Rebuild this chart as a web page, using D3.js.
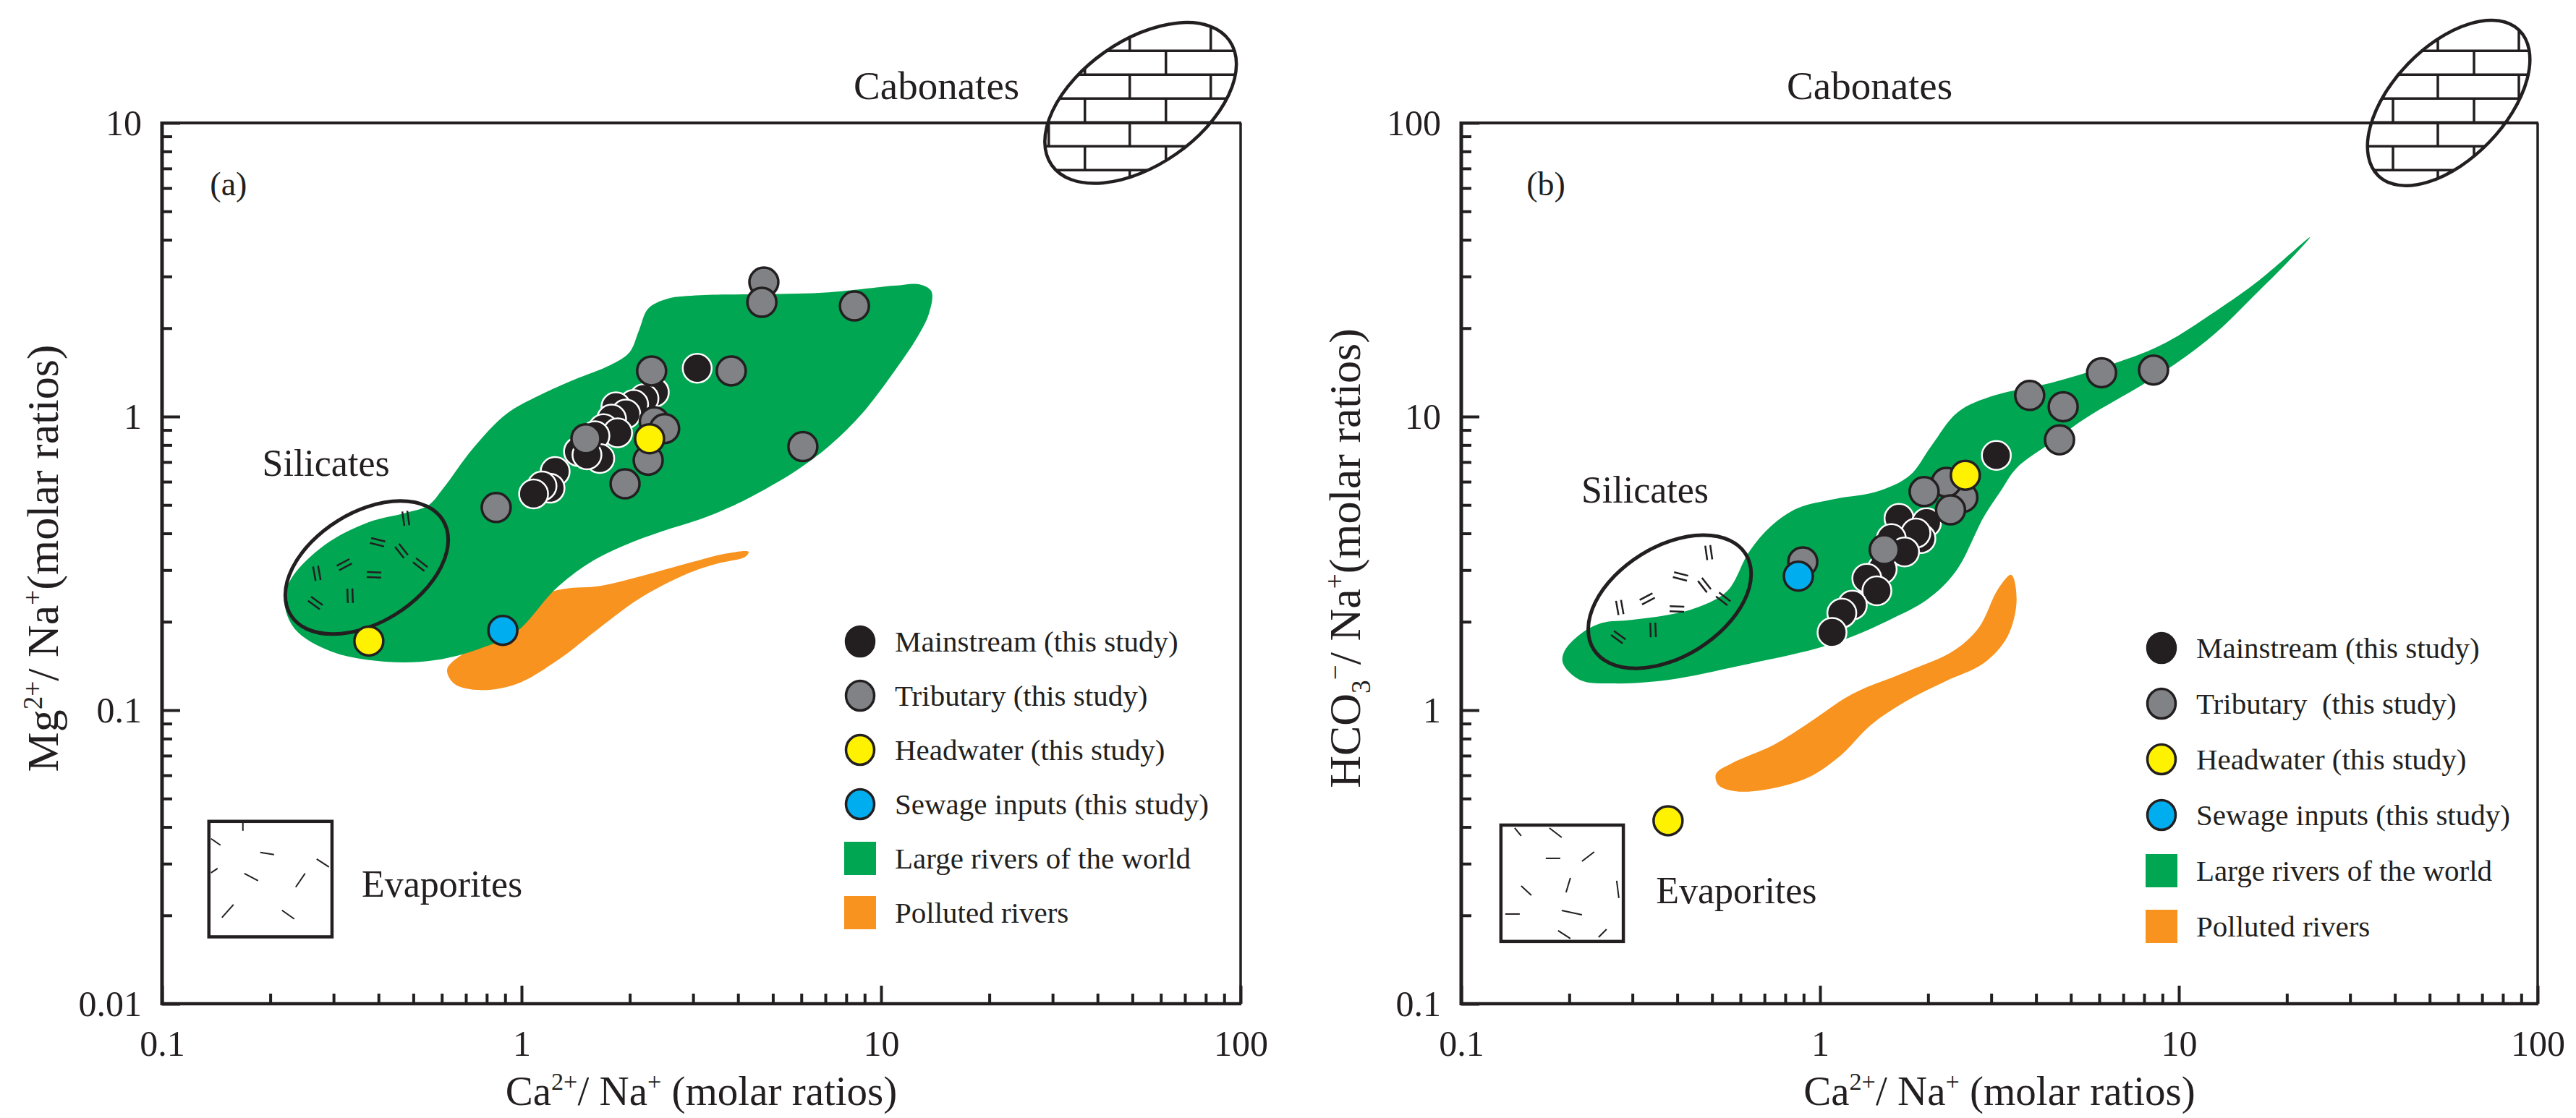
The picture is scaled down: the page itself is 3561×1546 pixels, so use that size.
<!DOCTYPE html>
<html>
<head>
<meta charset="utf-8">
<script src="https://cdn.jsdelivr.net/npm/d3@7"></script>
<style>
body { margin: 0; background: #fff; }
svg text, svg tspan { font-family: "Liberation Serif", "Times New Roman", Times, serif !important; fill: #231f20; white-space: pre; }
</style>
</head>
<body>
<svg id="chart"></svg>
<script>
var W = 3561, H = 1546;
var serif = "'Liberation Serif', 'Times New Roman', Times, serif";

// ---- data ----
var xTicks = [0.1, 1, 10, 100];
var yTicksA = [0.01, 0.1, 1, 10];
var yTicksB = [0.1, 1, 10, 100];

// panel (a): Ca/Na vs Mg/Na
var mainstreamA = [[3.08,1.46],[2.34,1.21],[2.19,1.15],[2.05,1.10],[1.83,1.08],[1.95,1.02],[1.78,0.98],[1.69,0.91],[1.85,0.88],[1.60,0.86],[1.44,0.76],[1.65,0.72],[1.52,0.74],[1.24,0.65],[1.20,0.57],[1.14,0.58],[1.08,0.545]];
var tributaryA = [[4.72,2.87],[4.66,2.45],[8.43,2.38],[2.30,1.43],[3.83,1.43],[2.34,0.96],[2.50,0.91],[1.51,0.84],[2.25,0.71],[6.06,0.79],[1.94,0.59],[0.85,0.49]];
var headwaterA = [[2.27,0.84],[0.376,0.172]];
var sewageA = [[0.887,0.187]];
var largeRiversA = [[0.968,0.185],[1.24,0.258],[1.53,0.315],[1.91,0.362],[2.45,0.406],[3.14,0.447],[3.85,0.495],[4.74,0.564],[5.84,0.657],[7.16,0.792],[8.83,1.02],[10.9,1.43],[12.6,1.86],[13.6,2.25],[13.8,2.67],[12.8,2.82],[10.9,2.79],[7.16,2.65],[4.74,2.61],[3.14,2.59],[2.55,2.52],[2.25,2.33],[2.12,1.96],[2.0,1.66],[1.79,1.51],[1.37,1.32],[1.12,1.18],[0.907,1.02],[0.73,0.775],[0.604,0.567],[0.55,0.498],[0.476,0.47],[0.376,0.437],[0.284,0.366],[0.229,0.281],[0.219,0.235],[0.234,0.189],[0.297,0.158],[0.424,0.146],[0.576,0.148],[0.765,0.162]];
var pollutedA = [[0.621,0.138],[0.703,0.159],[0.827,0.184],[0.959,0.211],[1.117,0.244],[1.315,0.259],[1.657,0.265],[2.15,0.286],[2.94,0.318],[3.73,0.342],[4.28,0.346],[4.19,0.333],[3.48,0.315],[2.94,0.294],[2.15,0.242],[1.65,0.191],[1.27,0.149],[0.973,0.123],[0.771,0.117],[0.650,0.123]];

// panel (b): Ca/Na vs HCO3/Na
var mainstreamB = [[3.10,7.37],[1.66,4.50],[1.98,4.35],[1.91,3.84],[1.85,4.01],[1.58,3.84],[1.72,3.46],[1.49,3.02],[1.35,2.81],[1.44,2.55],[1.23,2.28],[1.15,2.14],[1.08,1.84]];
var tributaryB = [[6.09,14.1],[8.50,14.4],[3.84,11.8],[4.76,10.8],[4.65,8.33],[2.50,5.3],[2.25,5.97],[1.95,5.55],[2.31,4.81],[1.51,3.52],[0.895,3.20]];
var headwaterB = [[2.54,6.31],[0.377,0.42]];
var sewageB = [[0.87,2.86]];
var largeRiversB = [[0.192,1.445],[0.214,1.268],[0.265,1.233],[0.377,1.268],[0.606,1.422],[0.973,1.619],[1.233,1.784],[1.562,2.03],[1.98,2.37],[2.39,2.97],[2.86,4.55],[3.18,5.55],[3.53,6.68],[4.38,8.11],[5.55,9.95],[7.89,12.8],[10.0,15.4],[12.7,19.3],[16.1,25.6],[20.3,34.0],[23.2,40.8],[16.8,29.2],[12.7,22.9],[8.91,17.5],[6.23,14.8],[4.38,13.0],[3.06,11.8],[2.42,10.35],[2.04,7.93],[1.78,6.31],[1.44,5.55],[1.10,5.24],[0.866,4.87],[0.733,4.25],[0.634,3.46],[0.552,2.55],[0.456,2.24],[0.377,2.11],[0.298,2.03],[0.246,1.98],[0.214,1.81],[0.194,1.59]];
var pollutedB = [[3.41,2.89],[3.53,2.37],[3.33,1.78],[2.86,1.445],[2.24,1.255],[1.76,1.082],[1.39,0.893],[1.14,0.700],[0.928,0.590],[0.703,0.536],[0.578,0.530],[0.520,0.557],[0.513,0.607],[0.570,0.661],[0.743,0.762],[0.928,0.903],[1.227,1.133],[1.76,1.358],[2.35,1.59],[2.77,1.91],[3.13,2.58]];

var legendLabelsA = ["Mainstream (this study)", "Tributary (this study)", "Headwater (this study)", "Sewage inputs (this study)", "Large rivers of the world", "Polluted rivers"];
var legendLabelsB = ["Mainstream (this study)", "Tributary  (this study)", "Headwater (this study)", "Sewage inputs (this study)", "Large rivers of the world", "Polluted rivers"];

var ink = "#231f20";
var colMain = "#231f20", colTrib = "#808285", colHead = "#fff200", colSew = "#00aeef";
var colGreen = "#00a651", colOrange = "#f7931e";

// little dash marks drawn inside the rock symbols (pixel offsets)
var silicateDashes = [[54,-68,82],[15,-35,14],[48,-23,52],[74,-4,38],[-31,-4,-28],[10,10,2],[-69,8,80],[-23,39,88],[-71,49,36]];
var evapDashesA = [[47,2,47,13],[3,24,16,33],[71,43,90,46],[149,52,166,63],[3,71,12,65],[49,72,68,82],[133,72,120,91],[34,115,18,133],[101,123,118,135]];
var evapDashesB = [[19,4,28,15],[67,4,84,17],[62,46,82,46],[129,37,112,50],[28,84,42,97],[96,73,90,93],[160,77,163,101],[6,123,26,123],[84,118,112,124],[79,146,96,157],[146,144,135,155]];

var svg = d3.select("#chart").attr("width", W).attr("height", H).attr("font-family", serif);
svg.append("rect").attr("width", W).attr("height", H).attr("fill", "#fff");

var panels = [
  { left: 224, right: 1715, top: 170, bottom: 1388, yDomain: [0.01, 10], yTicks: yTicksA,
    main: mainstreamA, trib: tributaryA, head: headwaterA, sew: sewageA, green: largeRiversA, orange: pollutedA,
    legend: legendLabelsA, legendX: 1189, legendY: 887, legendStep: 75,
    tag: "(a)", tagAt: [0.136, 5.67],
    carb: [52.7, 11.7], carbRot: -35, carbR: [150, 86], carbText: [8.39, 12.05],
    sil: [0.371, 0.306], silText: [0.19, 0.628],
    evap: [[0.135, 0.0418], [0.297, 0.0169]], evapText: [0.359, 0.0232], evapDashes: evapDashesA,
    yTitle: [{t:"Mg"},{t:"2+",sup:1},{t:"/ Na"},{t:"+",sup:1},{t:"(molar ratios)"}], yTitleX: 80 },
  { left: 2020, right: 3508, top: 170, bottom: 1388, yDomain: [0.1, 100], yTicks: yTicksB,
    main: mainstreamB, trib: tributaryB, head: headwaterB, sew: sewageB, green: largeRiversB, orange: pollutedB,
    legend: legendLabelsB, legendX: 2988, legendY: 896, legendStep: 77,
    tag: "(b)", tagAt: [0.152, 56.7],
    carb: [56.5, 117], carbRot: -46, carbR: [140, 78], carbText: [0.808, 120.5],
    sil: [0.381, 2.34], silText: [0.216, 5.09],
    evap: [[0.129, 0.406], [0.283, 0.163]], evapText: [0.349, 0.22], evapDashes: evapDashesB,
    yTitle: [{t:"HCO"},{t:"3",sub:1},{t:"\u2212",sup:1},{t:"/ Na"},{t:"+",sup:1},{t:"(molar ratios)"}], yTitleX: 1880 }
];

var xTitle = [{t:"Ca"},{t:"2+",sup:1},{t:"/ Na"},{t:"+",sup:1},{t:" (molar ratios)"}];

function rich(textSel, parts, fs) {
  var shift = 0;
  parts.forEach(function(p) {
    var target = p.sup ? -0.36 * fs : (p.sub ? 0.22 * fs : 0);
    textSel.append("tspan")
      .attr("font-family", serif)
      .attr("font-size", (p.sup || p.sub) ? fs * 0.6 : fs)
      .attr("dy", target - shift)
      .text(p.t);
    shift = target;
  });
}

function minorTicks(domain) {
  var v = [];
  for (var e = Math.round(Math.log10(domain[0])); e < Math.round(Math.log10(domain[1])); e++)
    for (var k = 2; k < 10; k++) v.push(k * Math.pow(10, e));
  return v;
}

function label(g, px, py, size, str) {
  return g.append("text").attr("x", px).attr("y", py).attr("font-family", serif)
    .attr("font-size", size).attr("fill", ink).text(str);
}

panels.forEach(function(p, i) {
  var x = d3.scaleLog().domain([0.1, 100]).range([p.left, p.right]);
  var y = d3.scaleLog().domain(p.yDomain).range([p.bottom, p.top]);
  var g = svg.append("g");

  var area = d3.line().x(function(d) { return x(d[0]); }).y(function(d) { return y(d[1]); })
    .curve(d3.curveCatmullRomClosed.alpha(0.5));

  g.append("path").attr("d", area(p.orange)).attr("fill", colOrange);
  g.append("path").attr("d", area(p.green)).attr("fill", colGreen);

  // silicates symbol
  var sg = g.append("g").attr("transform", "translate(" + x(p.sil[0]) + "," + y(p.sil[1]) + ")");
  sg.append("ellipse").attr("rx", 124).attr("ry", 76).attr("transform", "rotate(-32)")
    .attr("fill", "none").attr("stroke", ink).attr("stroke-width", 5);
  silicateDashes.forEach(function(d) {
    var dg = sg.append("g").attr("transform", "translate(" + d[0] + "," + d[1] + ") rotate(" + d[2] + ")");
    [-3.5, 3.5].forEach(function(o) {
      dg.append("line").attr("x1", -10).attr("x2", 10).attr("y1", o).attr("y2", o)
        .attr("stroke", ink).attr("stroke-width", 2.5);
    });
  });
  label(g, x(p.silText[0]), y(p.silText[1]), 52, "Silicates");

  // evaporites symbol
  var ex0 = x(p.evap[0][0]), ey0 = y(p.evap[0][1]), ex1 = x(p.evap[1][0]), ey1 = y(p.evap[1][1]);
  g.append("rect").attr("x", ex0).attr("y", ey0).attr("width", ex1 - ex0).attr("height", ey1 - ey0)
    .attr("fill", "none").attr("stroke", ink).attr("stroke-width", 4.5);
  p.evapDashes.forEach(function(d) {
    g.append("line").attr("x1", ex0 + d[0]).attr("y1", ey0 + d[1]).attr("x2", ex0 + d[2]).attr("y2", ey0 + d[3])
      .attr("stroke", ink).attr("stroke-width", 2);
  });
  label(g, x(p.evapText[0]), y(p.evapText[1]), 52, "Evaporites");

  // axes
  var yAxis = d3.axisLeft(y).tickValues(p.yTicks).tickSize(-25).tickSizeOuter(0).tickPadding(28)
    .tickFormat(function(d) { return String(d); });
  var yMinor = d3.axisLeft(y).tickValues(minorTicks(p.yDomain)).tickSize(-14).tickSizeOuter(0).tickFormat("");
  var xAxis = d3.axisBottom(x).tickValues(xTicks).tickSize(-25).tickSizeOuter(0).tickPadding(36)
    .tickFormat(function(d) { return String(d); });
  var xMinor = d3.axisBottom(x).tickValues(minorTicks([0.1, 100])).tickSize(-14).tickSizeOuter(0).tickFormat("");

  [[yAxis, "translate(" + p.left + ",0)"], [yMinor, "translate(" + p.left + ",0)"],
   [xAxis, "translate(0," + p.bottom + ")"], [xMinor, "translate(0," + p.bottom + ")"]].forEach(function(a) {
    var ag = g.append("g").attr("transform", a[1]).call(a[0]);
    ag.attr("font-family", serif).attr("font-size", 50);
    ag.select(".domain").remove();
    ag.selectAll("line").attr("stroke", ink).attr("stroke-width", 4);
    ag.selectAll("text").attr("font-family", serif).attr("font-size", 50).attr("fill", ink);
  });

  // frame
  g.append("line").attr("x1", p.left).attr("x2", p.left).attr("y1", p.top - 2).attr("y2", p.bottom + 2)
    .attr("stroke", ink).attr("stroke-width", 5);
  g.append("line").attr("x1", p.left - 2).attr("x2", p.right + 1).attr("y1", p.bottom).attr("y2", p.bottom)
    .attr("stroke", ink).attr("stroke-width", 4.5);
  g.append("line").attr("x1", p.left - 2).attr("x2", p.right + 1).attr("y1", p.top).attr("y2", p.top)
    .attr("stroke", ink).attr("stroke-width", 4);
  g.append("line").attr("x1", p.right).attr("x2", p.right).attr("y1", p.top).attr("y2", p.bottom)
    .attr("stroke", ink).attr("stroke-width", 3.5);

  // carbonates symbol (brick pattern inside a tilted ellipse)
  var cx = x(p.carb[0]), cy = y(p.carb[1]);
  var clipId = "carbclip" + i;
  svg.append("defs").append("clipPath").attr("id", clipId)
    .append("ellipse").attr("rx", p.carbR[0]).attr("ry", p.carbR[1])
    .attr("transform", "translate(" + cx + "," + cy + ") rotate(" + p.carbRot + ")");
  var bg = g.append("g").attr("clip-path", "url(#" + clipId + ")");
  var rowsY = [-72, -39, -6, 27, 60, 93];
  rowsY.forEach(function(ry) {
    bg.append("line").attr("x1", cx - 200).attr("x2", cx + 200).attr("y1", cy + ry).attr("y2", cy + ry)
      .attr("stroke", ink).attr("stroke-width", 3.5);
  });
  var bounds = [-160].concat(rowsY).concat([160]);
  for (var r = 0; r < bounds.length - 1; r++) {
    var off = (r % 2 === 0) ? -15 : -77;
    for (var k = -3; k <= 3; k++) {
      var vx = cx + off + 112 * k;
      bg.append("line").attr("x1", vx).attr("x2", vx).attr("y1", cy + bounds[r]).attr("y2", cy + bounds[r + 1])
        .attr("stroke", ink).attr("stroke-width", 3.5);
    }
  }
  g.append("ellipse").attr("rx", p.carbR[0]).attr("ry", p.carbR[1])
    .attr("transform", "translate(" + cx + "," + cy + ") rotate(" + p.carbRot + ")")
    .attr("fill", "none").attr("stroke", ink).attr("stroke-width", 4.5);
  label(g, x(p.carbText[0]), y(p.carbText[1]), 55, "Cabonates");

  // sample points
  function dots(data, fill, stroke, sw) {
    g.append("g").selectAll("circle").data(data).enter().append("circle")
      .attr("cx", function(d) { return x(d[0]); }).attr("cy", function(d) { return y(d[1]); })
      .attr("r", 20).attr("fill", fill).attr("stroke", stroke).attr("stroke-width", sw);
  }
  dots(p.main, colMain, "#fff", 2.5);
  dots(p.trib, colTrib, ink, 3.5);
  dots(p.head, colHead, ink, 3.5);
  dots(p.sew, colSew, ink, 3.5);

  // panel tag
  label(g, x(p.tagAt[0]), y(p.tagAt[1]), 46, p.tag);

  // axis titles
  var xt = g.append("text").attr("x", (p.left + p.right) / 2).attr("y", 1528)
    .attr("text-anchor", "middle").attr("font-family", serif).attr("fill", ink);
  rich(xt, xTitle, 57);
  var yt = g.append("text").attr("transform", "translate(" + p.yTitleX + "," + 772 + ") rotate(-90)")
    .attr("text-anchor", "middle").attr("font-family", serif).attr("fill", ink);
  rich(yt, p.yTitle, 62);

  // legend
  var lfill = [colMain, colTrib, colHead, colSew, colGreen, colOrange];
  p.legend.forEach(function(lab, j) {
    var ly = p.legendY + j * p.legendStep;
    if (j < 4) {
      g.append("ellipse").attr("cx", p.legendX).attr("cy", ly).attr("rx", 19.5).attr("ry", 20.5)
        .attr("fill", lfill[j]).attr("stroke", ink).attr("stroke-width", 3.5);
    } else {
      g.append("rect").attr("x", p.legendX - 22).attr("y", ly - 23).attr("width", 44).attr("height", 46)
        .attr("fill", lfill[j]);
    }
    label(g, p.legendX + 48, ly, 41, lab).attr("dy", "0.35em");
  });
});
</script>
</body>
</html>
